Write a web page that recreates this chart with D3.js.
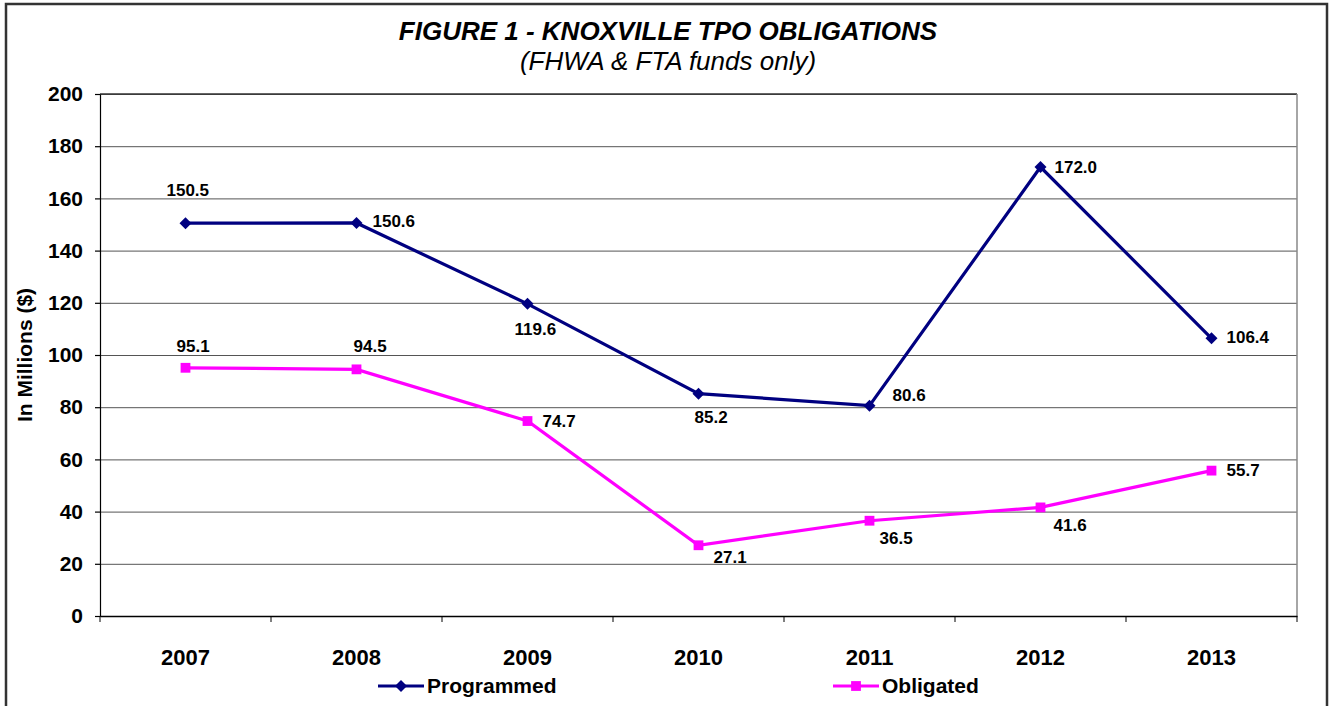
<!DOCTYPE html>
<html>
<head>
<meta charset="utf-8">
<script src="https://cdn.jsdelivr.net/npm/d3@7"></script>
<style>
  body { margin: 0; background: #fff; }
  svg { display: block; font-family: "Liberation Sans", Arial, sans-serif; }
</style>
</head>
<body>
<svg width="1331" height="706"></svg>
<script>
// chart data
const years = ["2007", "2008", "2009", "2010", "2011", "2012", "2013"];
const programmed = [150.5, 150.6, 119.6, 85.2, 80.6, 172.0, 106.4];
const obligated = [95.1, 94.5, 74.7, 27.1, 36.5, 41.6, 55.7];
const yTicks = [0, 20, 40, 60, 80, 100, 120, 140, 160, 180, 200];

// where each value label sits relative to its marker (start-anchored)
const progLabelOffset = [[-19, -27], [16, 4], [-13, 31], [-4, 29], [23, -5], [14, 6], [15, 5]];
const oblLabelOffset = [[-9, -16], [-3, -17], [15, 6], [15, 18], [10, 23], [13, 24], [15, 5]];

const plotLeft = 100, plotRight = 1297, plotTop = 94, plotBottom = 616;
const svg = d3.select("svg");

// outer frame
svg.append("rect")
  .attr("x", 6).attr("y", 4)
  .attr("width", 1321).attr("height", 740)
  .attr("fill", "none").attr("stroke", "#333").attr("stroke-width", 2.5);

const x = d3.scaleBand().domain(years).range([plotLeft, plotRight]);
const y = d3.scaleLinear().domain([0, 200]).range([plotBottom, plotTop]);
const cx = (d) => x(d) + x.bandwidth() / 2;

// gridlines
svg.append("g")
  .attr("transform", `translate(${plotLeft},0)`)
  .call(d3.axisLeft(y).tickValues(yTicks).tickSize(-(plotRight - plotLeft)).tickFormat(""))
  .call((g) => g.select(".domain").remove())
  .selectAll("line").attr("stroke", "#555");

// plot border: top dark, right grey
svg.append("line").attr("x1", plotLeft).attr("x2", plotRight).attr("y1", plotTop).attr("y2", plotTop)
  .attr("stroke", "#333").attr("stroke-width", 1.5);
svg.append("line").attr("x1", plotRight).attr("x2", plotRight).attr("y1", plotTop).attr("y2", plotBottom)
  .attr("stroke", "#888").attr("stroke-width", 1.5);

// y axis
const yAxis = svg.append("g")
  .attr("transform", `translate(${plotLeft},0)`)
  .call(d3.axisLeft(y).tickValues(yTicks).tickSize(5).tickPadding(12).tickSizeOuter(0));
yAxis.selectAll("text")
  .attr("font-size", 21).attr("font-weight", "bold").attr("fill", "#000")
  .attr("font-family", "Liberation Sans, Arial, sans-serif");
yAxis.selectAll("line, path").attr("stroke", "#000").attr("stroke-width", 1.2);

// x axis: labels at band centres, ticks at band edges
const xAxis = svg.append("g")
  .attr("transform", `translate(0,${plotBottom})`)
  .call(d3.axisBottom(x).tickSize(0).tickPadding(33).tickSizeOuter(0));
xAxis.selectAll("text")
  .attr("font-size", 22).attr("font-weight", "bold").attr("fill", "#000")
  .attr("font-family", "Liberation Sans, Arial, sans-serif");
xAxis.select(".domain").attr("stroke", "#000").attr("stroke-width", 1.5);
xAxis.selectAll("line.edge")
  .data(years.map((d) => x(d)).concat([plotRight]))
  .enter().append("line")
  .attr("class", "edge")
  .attr("x1", (d) => d).attr("x2", (d) => d)
  .attr("y1", 0).attr("y2", 6)
  .attr("stroke", "#000");

// y axis title
svg.append("text")
  .attr("transform", `translate(32,${(plotTop + plotBottom) / 2}) rotate(-90)`)
  .attr("text-anchor", "middle")
  .attr("font-size", 21).attr("font-weight", "bold")
  .text("In Millions ($)");

// title
svg.append("text")
  .attr("x", 668).attr("y", 40)
  .attr("text-anchor", "middle")
  .attr("font-size", 26).attr("font-weight", "bold").attr("font-style", "italic")
  .text("FIGURE 1 - KNOXVILLE TPO OBLIGATIONS");
svg.append("text")
  .attr("x", 668).attr("y", 70)
  .attr("text-anchor", "middle")
  .attr("font-size", 26).attr("font-style", "italic")
  .text("(FHWA & FTA funds only)");

const line = d3.line().x((d, i) => cx(years[i])).y((d) => y(d));

// diamond = square turned 45 degrees
const series = [
  { name: "Programmed", values: programmed, color: "#000080", rot: 45, offs: progLabelOffset, size: 72 },
  { name: "Obligated", values: obligated, color: "#FF00FF", rot: 0, offs: oblLabelOffset, size: 96 },
];
const marker = (s) => d3.symbol().type(d3.symbolSquare).size(s.size);

series.forEach((s) => {
  svg.append("path")
    .datum(s.values)
    .attr("fill", "none")
    .attr("stroke", s.color)
    .attr("stroke-width", 3.2)
    .attr("d", line);

  svg.append("g").selectAll("path")
    .data(s.values)
    .enter().append("path")
    .attr("transform", (d, i) => `translate(${cx(years[i])},${y(d)}) rotate(${s.rot})`)
    .attr("d", marker(s))
    .attr("fill", s.color);

  svg.append("g").selectAll("text")
    .data(s.values)
    .enter().append("text")
    .attr("x", (d, i) => cx(years[i]) + s.offs[i][0])
    .attr("y", (d, i) => y(d) + s.offs[i][1])
    .attr("font-size", 17).attr("font-weight", "bold")
    .text((d) => d.toFixed(1));
});

// legend
const legendX = [378, 833];
series.forEach((s, i) => {
  const g = svg.append("g").attr("transform", `translate(${legendX[i]},686)`);
  g.append("line").attr("x1", 0).attr("x2", 46).attr("y1", 0).attr("y2", 0)
    .attr("stroke", s.color).attr("stroke-width", 3.2);
  g.append("path").attr("transform", `translate(23,0) rotate(${s.rot})`)
    .attr("d", marker(s)).attr("fill", s.color);
  g.append("text").attr("x", 49).attr("y", 7)
    .attr("font-size", 21).attr("font-weight", "bold")
    .text(s.name);
});
</script>
</body>
</html>
